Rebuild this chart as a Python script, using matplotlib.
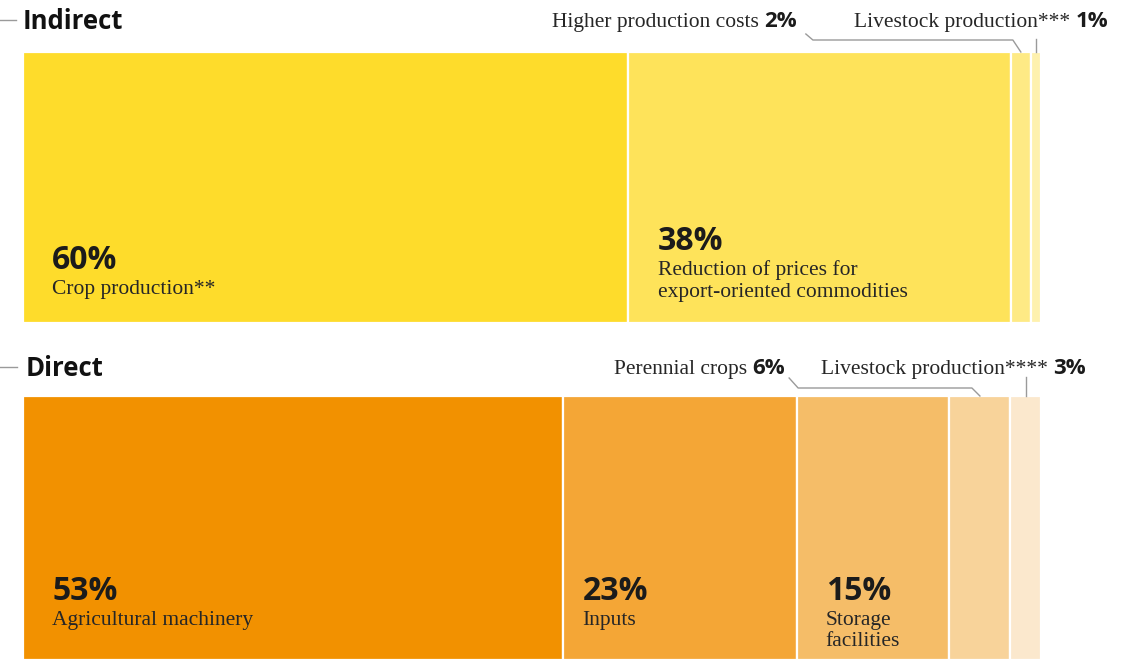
import matplotlib
matplotlib.use("Agg")
import matplotlib.pyplot as plt
from matplotlib.transforms import blended_transform_factory, offset_copy
from matplotlib.lines import Line2D
import numpy as np

# ---------------- data ----------------
indirect_labels = ["Crop production**", "Reduction of prices for\nexport-oriented commodities",
                   "Higher production costs", "Livestock production***"]
indirect_values = [60, 38, 2, 1]
indirect_colors = ["#FEDC2B", "#FEE35A", "#FEEA85", "#FEF1AE"]

direct_labels = ["Agricultural machinery", "Inputs", "Storage\nfacilities",
                 "Perennial crops", "Livestock production****"]
direct_values = [53, 23, 15, 6, 3]
direct_colors = ["#F29100", "#F4A636", "#F5BD68", "#F8D39A", "#FBE8CD"]

W, H, DPI = 1130, 663, 100
fig = plt.figure(figsize=(W / DPI, H / DPI), dpi=DPI)
fig.patch.set_facecolor("white")

SERIF = ["Liberation Serif", "DejaVu Serif"]
BOLD = ["Open Sans", "DejaVu Sans"]
TXT = "#1b1b1b"
LAB_TXT = "#262626"
LINE = "#9a9a9a"
LAB_FS = 15.5
PCT_FS = 23
OUT_BOLD_FS = 16


def px_axes(left, top, right, bottom):
    return fig.add_axes([left / W, 1 - bottom / H, (right - left) / W, (bottom - top) / H])


def fig_line(points_px, **kw):
    xs = [p[0] / W for p in points_px]
    ys = [1 - p[1] / H for p in points_px]
    fig.add_artist(Line2D(xs, ys, transform=fig.transFigure, color=LINE, lw=1.0, **kw))


def draw_bar(ax, values, colors):
    lefts = np.concatenate([[0], np.cumsum(values)[:-1]])
    ax.barh([0], values, left=lefts, height=1.0, color=colors,
            edgecolor="white", linewidth=1.6)
    ax.set_xlim(0, sum(values))
    ax.set_ylim(-0.5, 0.5)
    ax.axis("off")
    return lefts


ax1 = px_axes(23, 52, 1041, 323)
left1 = draw_bar(ax1, indirect_values, indirect_colors)
ax2 = px_axes(23, 396, 1041, 660)
left2 = draw_bar(ax2, direct_values, direct_colors)

# headings
fig.text(23 / W, 1 - 29 / H, "Indirect", fontsize=18.5, fontweight="bold",
         family=BOLD, color="#111111", va="baseline", ha="left")
fig.text(26 / W, 1 - 376 / H, "Direct", fontsize=18.5, fontweight="bold",
         family=BOLD, color="#111111", va="baseline", ha="left")
fig_line([(0, 20), (16, 20)])
fig_line([(0, 367), (17, 367)])


def inside(ax, left, value, label, dx, first_base_up, lh):
    """first_base_up: px of first label line baseline above bar bottom."""
    tb = blended_transform_factory(ax.transData, ax.transAxes)
    lines = label.split("\n")
    for j, ln in enumerate(lines):
        tr = offset_copy(tb, fig=fig, x=dx, y=first_base_up - j * lh, units="dots")
        ax.text(left, 0, ln, transform=tr, fontsize=LAB_FS, family=SERIF,
                color=LAB_TXT, ha="left", va="baseline")
    tr = offset_copy(tb, fig=fig, x=dx, y=first_base_up + 25, units="dots")
    ax.text(left, 0, f"{value}%", transform=tr, fontsize=PCT_FS, fontweight="bold",
            family=BOLD, color=TXT, ha="left", va="baseline")


# Indirect: bottom aligned
for i, dx, up in [(0, 29, 29), (1, 30, 26)]:
    n = len(indirect_labels[i].split("\n"))
    inside(ax1, left1[i], indirect_values[i], indirect_labels[i], dx, up + (n - 1) * 22, 22)

# Direct: top aligned
for i, dx in [(0, 29), (1, 20), (2, 29)]:
    inside(ax2, left2[i], direct_values[i], direct_labels[i], dx, 35, 21)


def outside_label(x_px, base_px, name, value):
    t = fig.text(x_px / W, 1 - base_px / H, name + " ", fontsize=LAB_FS, family=SERIF,
                 color=LAB_TXT, ha="left", va="baseline")
    a = fig.add_artist(plt.Annotation(f"{value}%", xy=(1, 1 - base_px / H),
                                      xycoords=(t, "figure fraction"),
                                      fontsize=OUT_BOLD_FS, fontweight="bold", family=BOLD,
                                      color=TXT, ha="left", va="baseline"))
    return a


o1 = outside_label(552, 27, indirect_labels[2], indirect_values[2])
o2 = outside_label(854, 27, indirect_labels[3], indirect_values[3])
o3 = outside_label(614, 374, direct_labels[3], direct_values[3])
o4 = outside_label(821, 374, direct_labels[4], direct_values[4])


def seg_center_px(ax, lefts, values, i):
    x_disp, _ = ax.transData.transform((lefts[i] + values[i] / 2, 0))
    return x_disp


fig.canvas.draw()
r = fig.canvas.get_renderer()
end1 = o1.get_window_extent(r).x1
end3 = o3.get_window_extent(r).x1

c = seg_center_px(ax1, left1, indirect_values, 2)
fig_line([(end1 + 9, 34), (end1 + 16, 40), (c - 8, 40), (c, 52)])
c = seg_center_px(ax1, left1, indirect_values, 3)
fig_line([(c, 39), (c, 52)])
c = seg_center_px(ax2, left2, direct_values, 3)
fig_line([(end3 + 4, 378), (end3 + 13, 388), (c - 8, 388), (c, 396)])
c = seg_center_px(ax2, left2, direct_values, 4)
fig_line([(c, 377), (c, 396)])

fig.savefig("out.png", dpi=DPI, facecolor="white")
